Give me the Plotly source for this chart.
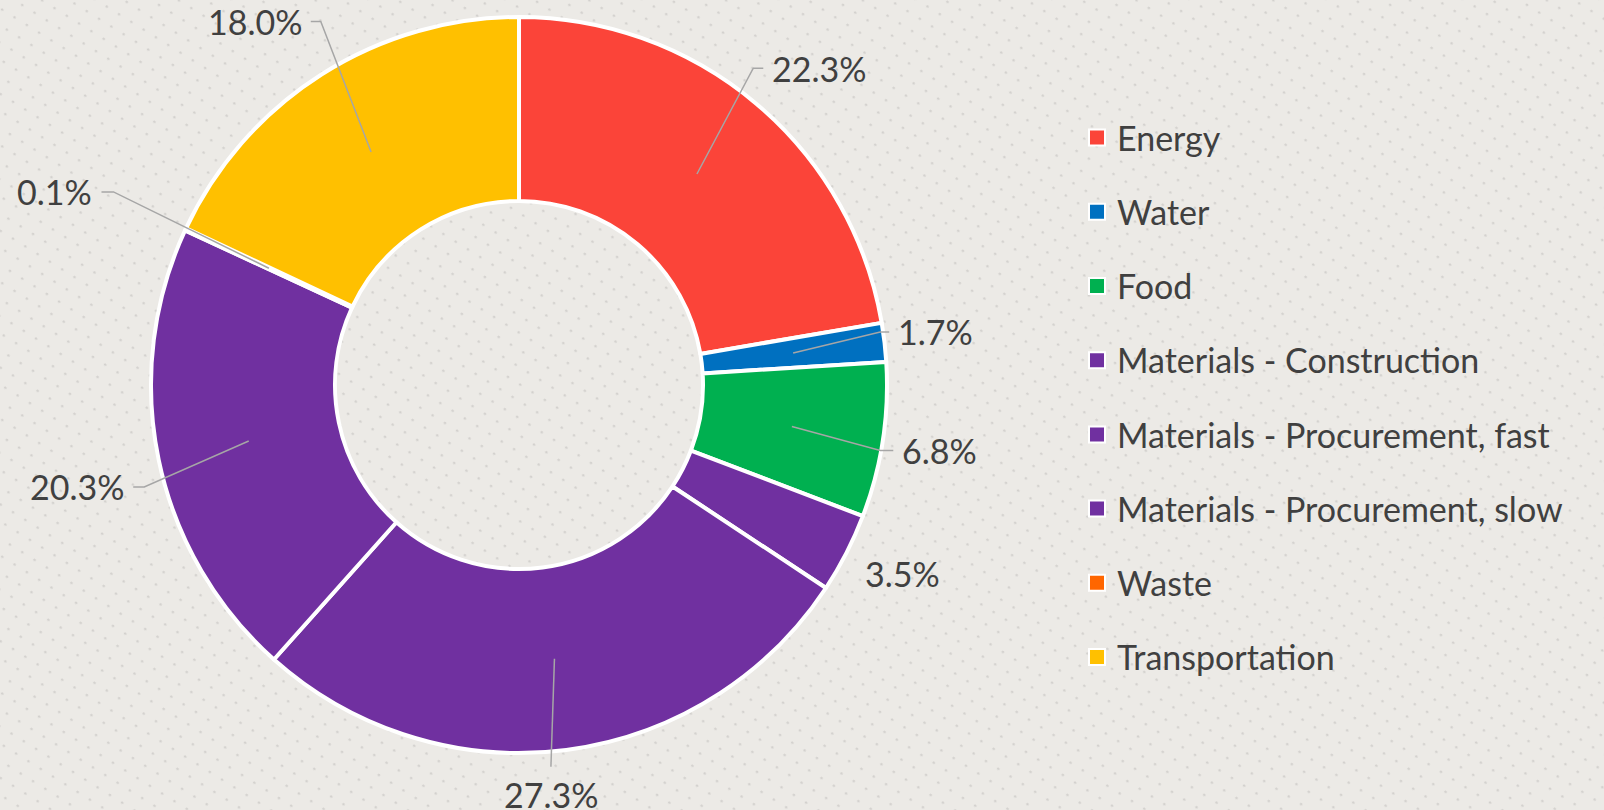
import base64
import math
import plotly.graph_objects as go

# ---- data ----
categories = [
    "Energy",
    "Water",
    "Food",
    "Materials - Construction",
    "Materials - Procurement, fast",
    "Materials - Procurement, slow",
    "Waste",
    "Transportation",
]
shares = [22.3, 1.7, 6.8, 3.5, 27.3, 20.3, 0.1, 18.0]

# ---- styling ----
colors = ["#FB4439", "#0070C0", "#00B050", "#7030A0", "#7030A0", "#7030A0", "#FF6600", "#FFC000"]
W, H = 1604, 810
FONT = "Lato, Carlito, Calibri, sans-serif"
TEXT_COLOR = "#404040"
LEADER_COLOR = "#A6A6A6"
BG = "#ECEAE6"

# donut placement in pixels
pie_left, pie_right = 150, 888
pie_top, pie_bottom = 17, 753
hole = 0.5

# label placement: angular nudge (deg), radial distance of leader end (px), elbow length (px)
label_shift_deg = [-2.5, -1.5, 1.3, 2.0, 2.6, -3.1, -0.2, 2.6]
label_radius = [400, 374, 380, 386, 383, 399, 460, 419]
elbow_len = [10, 9, 13, 0, 0, 11, 12, 10]
show_leader = [True, True, True, False, True, True, True, True]


def px_to_paper(x, y):
    return x / W, 1 - y / H


cx = (pie_left + pie_right) / 2
cy = (pie_top + pie_bottom) / 2
R = min(pie_right - pie_left, pie_bottom - pie_top) / 2
r_mid = R * (1 + hole) / 2

fig = go.Figure()

fig.add_trace(
    go.Pie(
        labels=categories,
        values=shares,
        hole=hole,
        sort=False,
        direction="clockwise",
        rotation=0,
        marker=dict(colors=colors, line=dict(color="white", width=4)),
        textinfo="none",
        showlegend=False,
        domain=dict(
            x=[pie_left / W, pie_right / W],
            y=[1 - pie_bottom / H, 1 - pie_top / H],
        ),
    )
)

# legend entries (one group per category so the spacing can be set)
for name, col in zip(categories, colors):
    fig.add_trace(
        go.Scatter(
            x=[None],
            y=[None],
            mode="markers",
            name=name,
            legendgroup=name,
            marker=dict(symbol="square", size=16, color=col, line=dict(color="white", width=2)),
            hoverinfo="skip",
        )
    )

# data labels with leader lines
total = sum(shares)
cum = 0.0
annotations = []
shapes = []
for i, v in enumerate(shares):
    mid = (cum + v / 2) / total * 360.0
    cum += v
    a = math.radians(mid)
    # point in the middle of the ring
    sx = cx + r_mid * math.sin(a)
    sy = cy - r_mid * math.cos(a)
    al = math.radians(mid + label_shift_deg[i])
    ex = cx + label_radius[i] * math.sin(al)
    ey = cy - label_radius[i] * math.cos(al)
    s = math.sin(al)
    if s > 0.2:
        side = 1
    elif s < -0.2:
        side = -1
    else:
        side = 0

    if side != 0:
        kx = ex - side * elbow_len[i]
        ky = ey
        tx, ty = ex + side * 7, ey
        xanchor = "left" if side > 0 else "right"
        yanchor = "middle"
    else:
        kx, ky = ex, ey
        tx, ty = ex, ey + 5
        xanchor, yanchor = "center", "top"

    if show_leader[i]:
        p0 = px_to_paper(sx, sy)
        p1 = px_to_paper(kx, ky)
        p2 = px_to_paper(ex, ey)
        shapes.append(
            dict(
                type="path",
                xref="paper",
                yref="paper",
                path=f"M {p0[0]},{p0[1]} L {p1[0]},{p1[1]} L {p2[0]},{p2[1]}",
                line=dict(color=LEADER_COLOR, width=1.5),
            )
        )

    tp = px_to_paper(tx, ty)
    annotations.append(
        dict(
            x=tp[0],
            y=tp[1],
            xref="paper",
            yref="paper",
            text=f"{v:.1f}%",
            showarrow=False,
            xanchor=xanchor,
            yanchor=yanchor,
            font=dict(family=FONT, size=34, color=TEXT_COLOR),
        )
    )

# dotted background texture
svg = (
    f"<svg xmlns='http://www.w3.org/2000/svg' width='{W}' height='{H}'>"
    "<defs><pattern id='d' width='14.5' height='14.5' patternUnits='userSpaceOnUse' "
    "patternTransform='rotate(32)'>"
    "<circle cx='7' cy='7' r='1.3' fill='#D3D1CE'/>"
    "</pattern></defs>"
    "<rect width='100%' height='100%' fill='url(#d)'/></svg>"
)
bg_src = "data:image/svg+xml;base64," + base64.b64encode(svg.encode()).decode()

fig.update_layout(
    width=W,
    height=H,
    margin=dict(l=0, r=0, t=0, b=0),
    paper_bgcolor=BG,
    plot_bgcolor="rgba(0,0,0,0)",
    xaxis=dict(visible=False),
    yaxis=dict(visible=False),
    font=dict(family=FONT, color=TEXT_COLOR),
    legend=dict(
        x=1077 / W,
        y=1 - 109 / H,
        xanchor="left",
        yanchor="top",
        bgcolor="rgba(0,0,0,0)",
        font=dict(family=FONT, size=34, color=TEXT_COLOR),
        tracegroupgap=27,
        itemsizing="trace",
    ),
    annotations=annotations,
    shapes=shapes,
    images=[
        dict(
            source=bg_src,
            xref="paper",
            yref="paper",
            x=0,
            y=1,
            sizex=1,
            sizey=1,
            sizing="stretch",
            layer="below",
        )
    ],
)

fig.write_html("out.html")
